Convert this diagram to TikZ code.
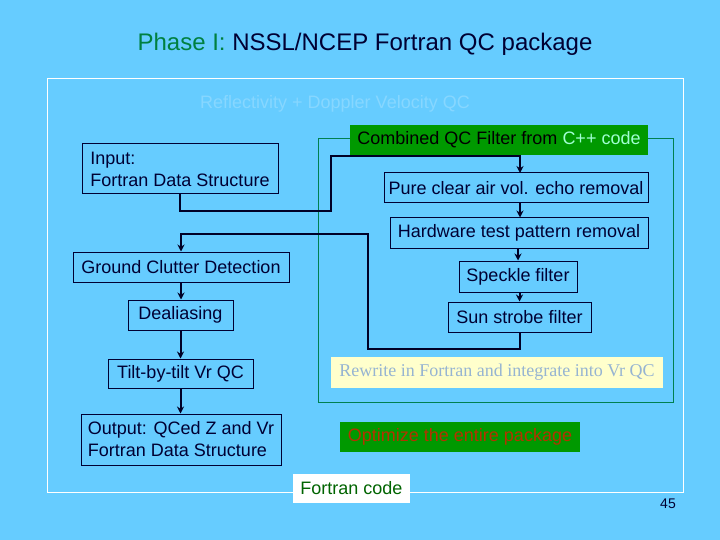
\documentclass[tikz,border=0pt]{standalone}
\usepackage{fontspec}
\setmainfont{Liberation Sans}
\newfontfamily\serifrm{Liberation Serif}
\usetikzlibrary{arrows.meta}
\definecolor{bgblue}{RGB}{102,204,255}
\definecolor{navy}{RGB}{0,0,51}
\definecolor{titlegreen}{RGB}{0,128,64}
\definecolor{fillgreen}{RGB}{0,153,0}
\definecolor{framegreen}{RGB}{0,128,80}
\definecolor{mint}{RGB}{160,255,210}
\definecolor{faintblue}{RGB}{135,215,255}
\definecolor{paleyellow}{RGB}{255,255,204}
\definecolor{steel}{RGB}{150,180,210}
\definecolor{rust}{RGB}{180,50,0}
\definecolor{darkgreen}{RGB}{0,100,0}
\begin{document}
\begin{tikzpicture}[x=1pt,y=-1pt,
  box/.style={draw=navy, line width=1pt, minimum height=30pt, inner sep=0pt,
    font=\fontsize{18}{22}\selectfont, text=navy},
  conn/.style={draw=black!85!blue, line width=2pt},
  arr/.style={conn, -{Stealth[length=7pt,width=7pt]}}]
\useasboundingbox (0,0) rectangle (720,540);
\fill[bgblue] (0,0) rectangle (720,540);

% title
\node[font=\fontsize{24}{28}\selectfont, text=navy] (title) at (365,44)
  {\textcolor{titlegreen}{Phase I:} NSSL/NCEP Fortran QC package};

% outer frame
\draw[white, line width=1pt] (47,79) rectangle (683,492);
\node[font=\fontsize{18}{22}\selectfont, text=faintblue] (refl) at (335,104)
  {Reflectivity + Doppler Velocity QC};

% green frame
\draw[framegreen, line width=1pt] (318,139) rectangle (673,402);
\node[fill=fillgreen, minimum width=298pt, minimum height=30pt, inner sep=0pt,
  font=\fontsize{18}{22}\selectfont] (comb) at (499,140)
  {Combined QC Filter from \textcolor{mint}{C++ code}};

% left column
\node[box, minimum width=196pt, minimum height=50pt, align=left] (input) at (180,169)
  {Input:\\Fortran Data Structure};
\node[box, minimum width=216pt] (ground) at (181,267) {Ground Clutter Detection};
\node[box, minimum width=105pt] (deal) at (180.5,315) {Dealiasing};
\node[box, minimum width=145pt, minimum height=29pt] (tilt) at (180.5,373.5) {Tilt-by-tilt Vr QC};
\node[box, minimum width=200pt, minimum height=51pt, align=left] (output) at (181,439.5)
  {Output: QCed Z and Vr\\Fortran Data Structure};

% right column
\node[box, minimum width=264pt] (pure) at (516,188) {Pure clear air vol. echo removal};
\node[box, minimum width=258pt] (hw) at (519,233) {Hardware test pattern removal};
\node[box, minimum width=118pt, minimum height=31pt] (speck) at (518,276.5) {Speckle filter};
\node[box, minimum width=143pt] (sun) at (519.5,317) {Sun strobe filter};

\node[fill=paleyellow, minimum width=332pt, minimum height=31pt, inner sep=0pt,
  font=\fontsize{18}{22}\serifrm, text=steel] (rewrite) at (497,372.5)
  {Rewrite in Fortran and integrate into Vr QC};
\node[fill=fillgreen, minimum width=240pt, minimum height=30pt, inner sep=0pt,
  font=\fontsize{18}{22}\selectfont, text=rust] (optim) at (460,437)
  {Optimize the entire package};
\node[fill=white, minimum width=117pt, minimum height=29pt, inner sep=0pt,
  font=\fontsize{18}{22}\selectfont, text=darkgreen] (fcode) at (351.5,488.5)
  {Fortran code};
\node[font=\fontsize{14}{16}\selectfont, text=navy] (pagenum) at (668,504) {45};

% connectors
\coordinate (j1) at (331,211);
\coordinate (j2) at (331,156);
\coordinate (j3) at (368,349);
\coordinate (j4) at (368,234);
\coordinate (pin) at (520,173);
\draw[arr] (input.south) |- (j1) -- (j2) -| (pin);
\draw[arr] (pin |- pure.south) -- (pin |- hw.north);
\draw[arr] (speck.north |- hw.south) -- (speck.north);
\draw[arr] (sun.north |- speck.south) -- (sun.north);
\draw[arr] (sun.south) |- (j3) -- (j4) -| (ground.north);
\draw[arr] (ground.south) -- (ground.south |- deal.north);
\draw[arr] (deal.south) -- (deal.south |- tilt.north);
\draw[arr] (tilt.south) -- (tilt.south |- output.north);
\end{tikzpicture}
\end{document}
